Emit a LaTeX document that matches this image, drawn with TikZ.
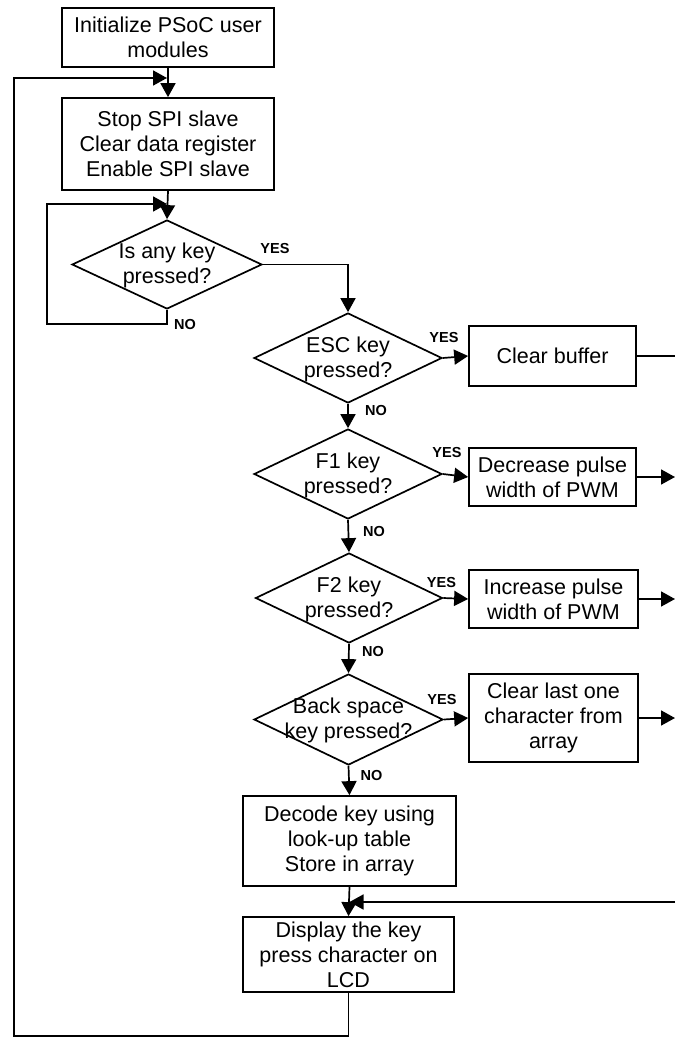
\documentclass[tikz,border=0pt]{standalone}
\usepackage{fontspec}
\setmainfont{Liberation Sans}
\usetikzlibrary{shapes.geometric,arrows.meta}
\begin{document}
\begin{tikzpicture}[x=1pt,y=-1pt,line width=1.7pt,
  box/.style={draw,rectangle,inner sep=0pt,align=center,font=\fontsize{21.5}{25}\selectfont},
  dia/.style={draw,diamond,inner sep=0pt},
  dtext/.style={align=center,inner sep=0pt,font=\fontsize{21.5}{25}\selectfont},
  lbl/.style={inner sep=0pt,font=\fontsize{14.5}{17}\selectfont\bfseries},
  arr/.style={-{Triangle[length=14pt,width=15pt]}}]
\useasboundingbox (0,0) rectangle (675,1038);

% boxes
\node[box,minimum width=212pt,minimum height=59pt] (init) at (168,37.5) {Initialize PSoC user\\modules};
\node[box,minimum width=212pt,minimum height=92pt] (spi) at (168,144) {Stop SPI slave\\Clear data register\\Enable SPI slave};

% diamonds
\node[dia,minimum width=190pt,minimum height=89pt] (d1) at (167,264.5) {};
\node[dtext] (d1t) at (167,265) {Is any key\\pressed?};
\node[dia,minimum width=188pt,minimum height=90pt] (d2) at (348,358) {};
\node[dtext] (d2t) at (348,359) {ESC key\\pressed?};
\node[dia,minimum width=188pt,minimum height=90pt] (d3) at (348,474) {};
\node[dtext] (d3t) at (348,475) {F1 key\\pressed?};
\node[dia,minimum width=187pt,minimum height=90pt] (d4) at (349,598) {};
\node[dtext] (d4t) at (349,599) {F2 key\\pressed?};
\node[dia,minimum width=189pt,minimum height=91pt] (d5) at (348.5,719.5) {};
\node[dtext] (d5t) at (348.5,720) {Back space\\key pressed?};

% action boxes
\node[box,minimum width=167pt,minimum height=60pt] (clr) at (552.5,356) {Clear buffer};
\node[box,minimum width=167pt,minimum height=58pt] (dec) at (552.5,477) {Decrease pulse\\width of PWM};
\node[box,minimum width=169pt,minimum height=58pt] (inc) at (553.5,599) {Increase pulse\\width of PWM};
\node[box,minimum width=169pt,minimum height=88pt] (clast) at (553.5,718) {Clear last one\\character from\\array};
\node[box,minimum width=213pt,minimum height=90pt] (decode) at (349.5,841) {Decode key using\\look-up table\\Store in array};
\node[box,minimum width=211pt,minimum height=75pt] (disp) at (348.5,954.5) {Display the key\\press character on\\LCD};

% helper coordinates
\coordinate (j1) at (167,78);
\coordinate (j2) at (167,204);
\coordinate (lp) at (47,324);
\coordinate (cbl) at (14,1036);
\coordinate (re) at (675,0);
\coordinate (inr) at (675,902);

% connectors
\draw[arr] (init.south) -- (spi.north);
\draw[arr] (spi.south) -- (d1.north);
\draw[arr] (d1.south) |- (lp) |- (j2);
\draw[arr] (d1.east) -| (d2.north);
\draw[arr] (d2.east) -- (clr.west);
\draw (clr.east) -- (clr.east -| re);
\draw[arr] (d2.south) -- (d3.north);
\draw[arr] (d3.east) -- (dec.west);
\draw[arr] (dec.east) -- (dec.east -| re);
\draw[arr] (d3.south) -- (d4.north);
\draw[arr] (d4.east) -- (inc.west);
\draw[arr] (inc.east) -- (inc.east -| re);
\draw[arr] (d4.south) -- (d5.north);
\draw[arr] (d5.east) -- (clast.west);
\draw[arr] (clast.east) -- (clast.east -| re);
\draw[arr] (d5.south) -- (decode.north);
\draw[arr] (decode.south) -- (disp.north);
\draw[arr] (inr) -- (inr -| decode.south);
\draw[arr] (disp.south) |- (cbl) |- (j1);

% labels
\node[lbl] (y1) at (275,248.5) {YES};
\node[lbl] (n1) at (185,325) {NO};
\node[lbl] (y2) at (444,337.5) {YES};
\node[lbl] (n2) at (376,411) {NO};
\node[lbl] (y3) at (447,453) {YES};
\node[lbl] (n3) at (374,532) {NO};
\node[lbl] (y4) at (441.5,582.5) {YES};
\node[lbl] (n4) at (373,651.5) {NO};
\node[lbl] (y5) at (442,699.5) {YES};
\node[lbl] (n5) at (371.5,775) {NO};
\end{tikzpicture}
\end{document}
